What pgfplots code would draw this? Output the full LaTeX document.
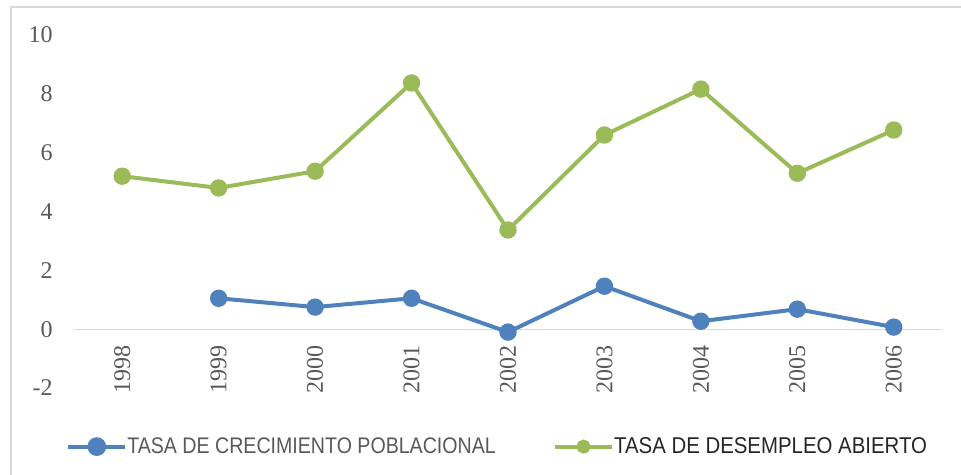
\documentclass[border=0pt]{standalone}
\usepackage{fontspec}
\setmainfont{Liberation Serif}
\setsansfont{Liberation Sans}
\usepackage{pgfplots}
\pgfplotsset{compat=1.18}
\definecolor{cblue}{HTML}{4F81BD}
\definecolor{cgreen}{HTML}{9BBB59}
\definecolor{cgrid}{HTML}{D9D9D9}
\definecolor{ctext}{HTML}{595959}
\begin{document}
\begin{tikzpicture}
\useasboundingbox (0,0) rectangle (720.75pt,356.25pt);
\draw[cgrid, line width=1.5pt] (8.25pt,-2pt) -- (8.25pt,350.625pt) -- (723pt,350.625pt);
\begin{axis}[
  at={(55.5pt,65.25pt)}, anchor=south west,
  scale only axis, width=651pt, height=264.75pt,
  xmin=-0.5, xmax=8.5, ymin=-2, ymax=10,
  axis x line=middle, axis y line*=left,
  x axis line style={-, cgrid, line width=0.75pt},
  y axis line style={draw=none},
  major tick length=0pt,
  xtick={0,...,8},
  xticklabels={1998,1999,2000,2001,2002,2003,2004,2005,2006},
  ytick={-2,0,2,4,6,8,10},
  /pgf/number format/assume math mode=true,
  tick label style={font=\fontsize{18}{20}\selectfont, text=ctext},
  xticklabel style={rotate=90, anchor=east, inner sep=0pt},
  xticklabel shift=12pt,
  yticklabel style={anchor=east, inner sep=0pt},
  yticklabel shift=15.75pt,
  clip=false,
  legend columns=2,
  legend style={draw=none, fill=none, at={(axis description cs:-0.0138,-0.166)}, anchor=west,
    nodes={inner sep=0pt, anchor=west},
    /tikz/every odd column/.append style={column sep=0pt},
    /tikz/every even column/.append style={column sep=43pt}},
  legend image code/.code={\draw[mark repeat=2, mark phase=2, #1] plot coordinates {(0pt,0pt) (21.375pt,0pt) (42.75pt,0pt)};},
]
\addplot[cblue, line width=3pt, mark=*, mark size=5pt, legend image post style={mark size=5.5pt}] coordinates {
 (1,1.05) (2,0.75) (3,1.05) (4,-0.1) (5,1.46) (6,0.27) (7,0.68) (8,0.07)};
\addlegendentry{\scalebox{1}[1.15]{\fontsize{14.7}{18}\sffamily\color{ctext}TASA DE CRECIMIENTO POBLACIONAL}}
\addplot[cgreen, line width=3pt, mark=*, mark size=5pt, legend image post style={mark size=3.75pt}] coordinates {
 (0,5.2) (1,4.8) (2,5.37) (3,8.37) (4,3.37) (5,6.6) (6,8.16) (7,5.3) (8,6.77)};
\addlegendentry{\scalebox{1}[1.12]{\fontsize{15.3}{18}\sffamily\color[HTML]{262626}TASA DE DESEMPLEO ABIERTO}}
\end{axis}
\end{tikzpicture}
\end{document}
